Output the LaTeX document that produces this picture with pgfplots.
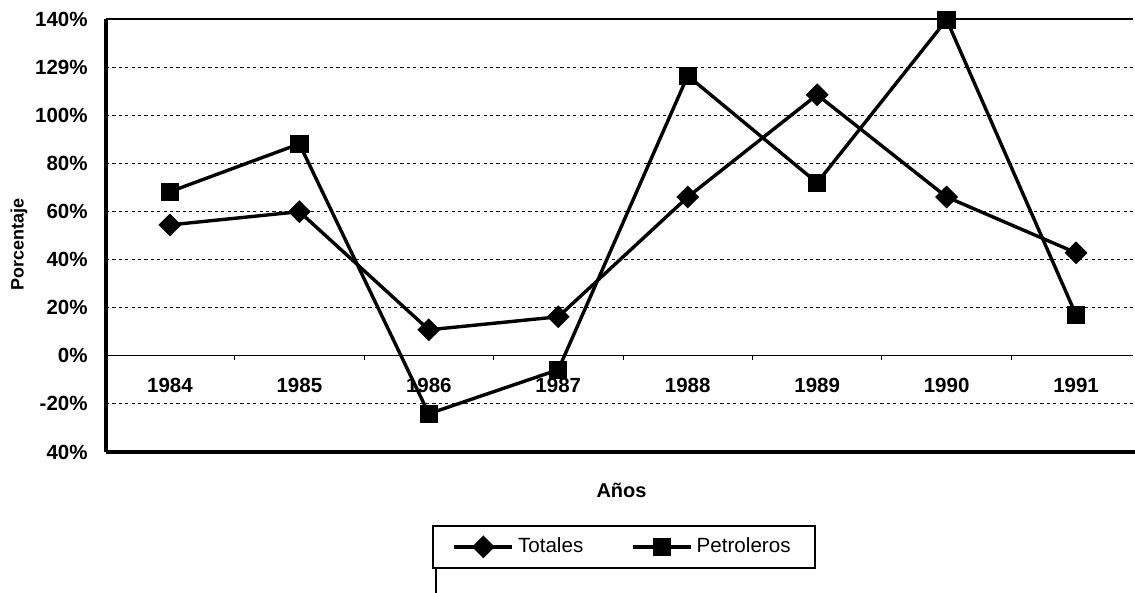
\documentclass[border=0pt]{standalone}
\usepackage{fontspec}
\setmainfont{Liberation Sans}
\usepackage{pgfplots}
\pgfplotsset{compat=1.18}
\begin{document}
\begin{tikzpicture}
\begin{axis}[
  at={(0,0)}, anchor=south west,
  scale only axis, width=513.5pt, height=216.5pt,
  xmin=-0.494, xmax=7.44, ymin=-40, ymax=140,
  axis x line=middle, axis y line=left,
  axis line style={-},
  x axis line style={line width=0.6pt},
  y axis line style={line width=2pt},
  /pgf/number format/assume math mode=true,
  ytick={-40,-20,0,20,40,60,80,100,120,140},
  yticklabels={40\%,-20\%,0\%,20\%,40\%,60\%,80\%,100\%,129\%,140\%},
  xtick={0,...,7},
  xticklabels={1984,1985,1986,1987,1988,1989,1990,1991},
  minor xtick={0.5,1.5,2.5,3.5,4.5,5.5,6.5},
  major tick length=0pt,
  minor tick length=2pt,
  tick align=outside,
  tick style={black, line width=0.5pt},
  ymajorgrids,
  major grid style={black, line width=0.5pt, dash pattern=on 1.6pt off 1.6pt},
  yticklabel style={font=\bfseries\fontsize{10.25}{12}\selectfont, inner sep=0pt, anchor=east, xshift=-9pt},
  xticklabel style={font=\bfseries\fontsize{10.25}{12}\selectfont, inner sep=0pt, anchor=north, yshift=-11pt},
  xlabel={Años},
  ylabel={Porcentaje},
  xlabel style={font=\bfseries\fontsize{10}{12}\selectfont, at={(axis description cs:0.502,-0.088)}, anchor=center},
  ylabel style={font=\bfseries\fontsize{9}{11}\selectfont, at={(axis description cs:-0.0847,0.48)}, anchor=center, rotate=0},
  legend columns=2,
  legend style={at={(axis description cs:0.504,-0.219)}, anchor=center, draw=black, line width=1pt,
    font=\fontsize{10.3}{12}\selectfont, inner xsep=10pt, inner ysep=4pt,
    /tikz/every even column/.append style={column sep=22pt}},
  legend image code/.code={\draw[mark repeat=2,mark phase=2,#1] plot coordinates {(0pt,0pt) (14.5pt,0pt) (29pt,0pt)};},
  clip=false,
]
\addplot[black, line width=1.7pt, mark=diamond*, mark size=4.5pt, mark options={solid, xscale=1.333}]
  coordinates {(0,54.4) (1,59.9) (2,10.8) (3,16.2) (4,66.0) (5,108.5) (6,66.0) (7,42.8)};
\addlegendentry{Totales}
\addplot[black, line width=1.7pt, mark=square*, mark size=3.75pt, mark options={solid}]
  coordinates {(0,68.2) (1,88.1) (2,-24.1) (3,-5.8) (4,116.4) (5,71.9) (6,139.7) (7,17.0)};
\addlegendentry{Petroleros}
\draw[black, line width=1pt] (rel axis cs:0,1) -- (rel axis cs:1,1);
\draw[black, line width=2pt] (rel axis cs:0,0) -- (rel axis cs:1.003,0);
\end{axis}
\draw[black, line width=1pt] (165pt,-58pt) -- (165pt,-71pt);
\pgfresetboundingbox
\path[use as bounding box] (-53pt,-70.5pt) rectangle (514.5pt,226pt);
\end{tikzpicture}
\end{document}
